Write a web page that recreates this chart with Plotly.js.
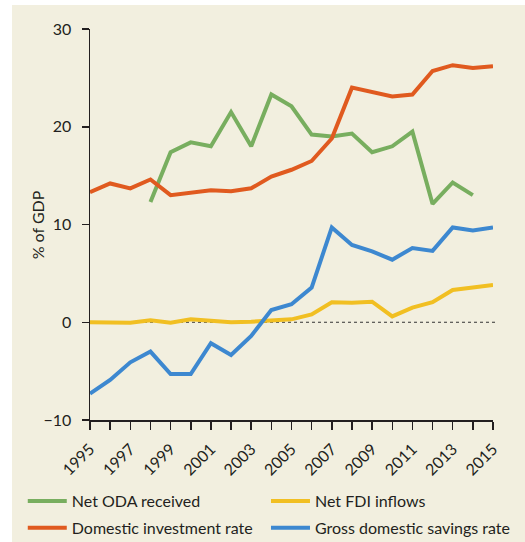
<!DOCTYPE html>
<html>
<head>
<meta charset="utf-8">
<script src="https://cdn.plot.ly/plotly-3.0.1.min.js"></script>
<style>
  html, body { margin: 0; padding: 0; background: #ffffff; }
  #chart { position: absolute; left: 12px; top: 5px; width: 513px; height: 537px; }
</style>
</head>
<body>
<div id="chart"></div>
<script>
const years = [1995,1996,1997,1998,1999,2000,2001,2002,2003,2004,2005,2006,2007,2008,2009,2010,2011,2012,2013,2014,2015];
const odaYears = [1998,1999,2000,2001,2002,2003,2004,2005,2006,2007,2008,2009,2010,2011,2012,2013,2014];
const netODA = [12.3,17.4,18.4,18.0,21.5,18.0,23.3,22.1,19.2,19.0,19.3,17.4,18.0,19.5,12.1,14.3,13.0];
const domesticInvestment = [13.3,14.2,13.7,14.6,13.0,13.2,13.5,13.4,13.7,14.9,15.6,16.5,18.8,24.0,23.5,23.1,23.3,25.7,26.3,26.0,26.2];
const netFDI = [0.0,0.0,-0.05,0.2,-0.05,0.3,0.15,0.0,0.05,0.2,0.3,0.8,2.05,2.0,2.1,0.6,1.5,2.05,3.3,3.55,3.8];
const grossSavings = [-7.3,-5.9,-4.1,-3.0,-5.3,-5.3,-2.15,-3.35,-1.4,1.25,1.85,3.55,9.7,7.9,7.25,6.4,7.6,7.3,9.7,9.4,9.7];
const seriesNames = ['Net ODA received','Net FDI inflows','Domestic investment rate','Gross domestic savings rate'];
const yAxisTitle = '% of GDP';
const xTickVals = years;
const xTickText = years.map(y => (y % 2 === 1 ? String(y) : ''));
const yTickVals = [-10, 0, 10, 20, 30];
const yTickText = ['\u221210', '0', '10', '20', '30'];

const FONT = 'Lato, "Open Sans", sans-serif';
const BG = '#f2efdf';
const INK = '#231f20';

const traces = [
  {x: odaYears, y: netODA, name: seriesNames[0], legend: 'legend', legendgroup: 'a', line: {color: '#78ae5f', width: 4}},
  {x: years, y: domesticInvestment, name: seriesNames[2], legend: 'legend', legendgroup: 'b', line: {color: '#e05a1f', width: 4}},
  {x: years, y: netFDI, name: seriesNames[1], legend: 'legend2', legendgroup: 'c', line: {color: '#f1bf22', width: 4}},
  {x: years, y: grossSavings, name: seriesNames[3], legend: 'legend2', legendgroup: 'd', line: {color: '#3d88d0', width: 4}}
].map(t => Object.assign({type: 'scatter', mode: 'lines', hoverinfo: 'skip'}, t));

const legendBase = {
  orientation: 'v', xref: 'container', yref: 'container',
  xanchor: 'left', y: 0.108, yanchor: 'top', itemwidth: 39,
  font: {family: FONT, size: 16, color: INK},
  bgcolor: 'rgba(0,0,0,0)', traceorder: 'grouped', tracegroupgap: 3
};

const layout = {
  width: 513, height: 537,
  paper_bgcolor: BG, plot_bgcolor: BG,
  font: {family: FONT, size: 16, color: INK},
  margin: {l: 77.5, r: 32.3, t: 24, b: 121.5, pad: 0, autoexpand: false},
  showlegend: true,
  legend: Object.assign({}, legendBase, {x: 0.021}),
  legend2: Object.assign({}, legendBase, {x: 0.4951}),
  xaxis: {
    range: [1995, 2015], tickmode: 'array', tickvals: xTickVals, ticktext: xTickText,
    tickangle: -45, ticks: 'outside', ticklen: 8, tickwidth: 1.5, tickcolor: INK,
    ticklabelstandoff: 4,
    showline: true, linecolor: INK, linewidth: 1.5, showgrid: false, zeroline: false,
    tickfont: {family: FONT, size: 16, color: INK}, fixedrange: true
  },
  yaxis: {
    range: [-10, 30], tickmode: 'array', tickvals: yTickVals, ticktext: yTickText,
    ticks: 'outside', ticklen: 7, tickwidth: 1.5, tickcolor: INK,
    ticklabelstandoff: 7,
    showline: true, linecolor: INK, linewidth: 1.5, showgrid: false, zeroline: false,
    tickfont: {family: FONT, size: 16, color: INK},
    fixedrange: true
  },
  annotations: [{
    text: yAxisTitle, xref: 'paper', yref: 'paper', x: -0.1314, y: 0.498,
    xanchor: 'center', yanchor: 'middle', textangle: -90, showarrow: false,
    font: {family: FONT, size: 16, color: INK}
  }],
  shapes: [{
    type: 'line', xref: 'paper', yref: 'y', x0: 0, x1: 1.008, y0: 0, y1: 0,
    line: {color: '#333333', width: 1, dash: 'dot'}, layer: 'below'
  }]
};

Plotly.newPlot('chart', traces, layout, {staticPlot: true, displayModeBar: false});
</script>
</body>
</html>
